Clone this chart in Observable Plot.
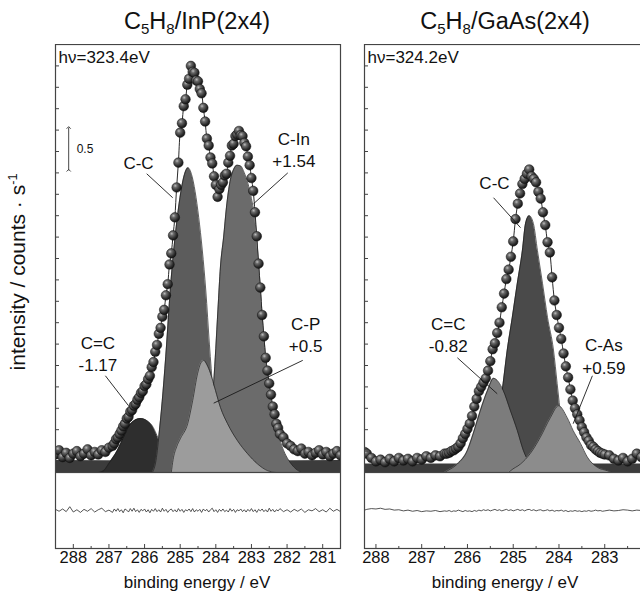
<!DOCTYPE html>
<html><head><meta charset="utf-8">
<script src="https://cdn.jsdelivr.net/npm/d3@7"></script>
<script src="https://cdn.jsdelivr.net/npm/@observablehq/plot@0.6"></script>
<style>
html,body{margin:0;padding:0;background:#fff;overflow:hidden;}
#wrap{position:relative;width:640px;height:594px;overflow:hidden;font-family:"Liberation Sans",Arial,sans-serif;color:#111;}
.abs{position:absolute;}
.title{font-size:23.5px;line-height:23.5px;white-space:nowrap;transform:translateX(-50%);}
.title .s{font-size:0.64em;position:relative;top:0.34em;}
.xlab{font-size:17px;line-height:17px;white-space:nowrap;transform:translateX(-50%);}
.ylab{font-size:21px;line-height:21px;white-space:nowrap;transform:translate(-50%,-50%) rotate(-90deg);}
.ylab sup{font-size:0.6em;vertical-align:0.6em;line-height:0;}
</style></head>
<body>
<svg width="0" height="0" style="position:absolute">
  <defs>
    <radialGradient id="ball" cx="0.36" cy="0.32" r="0.7">
      <stop offset="0" stop-color="#bdbdbd"/>
      <stop offset="0.28" stop-color="#6a6a6a"/>
      <stop offset="0.72" stop-color="#2e2e2e"/>
      <stop offset="1" stop-color="#111"/>
    </radialGradient>
  </defs>
</svg>
<div id="wrap"></div>
<script>
// ---------- data: rows are [binding energy (eV), intensity, residual] ----------
const inpRows = [
[288.5,0.21,0.03],[288.4,0.26,-0.02],[288.3,0.18,0.04],[288.2,0.23,-0.03],[288.1,0.17,0.1],
[288.0,0.22,-0.04],[287.9,0.25,0.02],[287.8,0.19,-0.05],[287.7,0.22,0.03],[287.6,0.27,-0.02],
[287.5,0.2,0.05],[287.4,0.24,-0.04],[287.3,0.21,0.02],[287.2,0.26,0.06],[287.1,0.24,-0.03],
[287.0,0.29,0.01],[286.9,0.31,-0.05],[286.85,0.34,0.04],[286.8,0.39,-0.02],[286.75,0.41,0.05],
[286.7,0.45,-0.03],[286.65,0.49,0.02],[286.6,0.54,-0.06],[286.55,0.57,0.04],[286.5,0.63,0.01],
[286.45,0.65,-0.04],[286.4,0.71,0.05],[286.35,0.73,-0.02],[286.3,0.78,0.06],[286.25,0.8,-0.03],
[286.2,0.85,0.02],[286.15,0.88,-0.05],[286.1,0.93,0.03],[286.05,0.95,-0.01],[286.0,1.01,0.04],
[285.95,1.03,-0.04],[285.9,1.09,0.02],[285.85,1.13,-0.06],[285.8,1.23,0.03],[285.75,1.29,-0.02],
[285.7,1.41,0.05],[285.65,1.49,-0.03],[285.6,1.62,0.02],[285.55,1.69,-0.04],[285.5,1.82,0.06],
[285.45,1.9,-0.02],[285.4,2.07,0.03],[285.35,2.2,-0.05],[285.3,2.43,0.01],[285.25,2.56,0.04],
[285.2,2.77,-0.03],[285.15,2.98,0.02],[285.1,3.33,-0.04],[285.05,3.62,0.05],[285.0,3.97,-0.02],
[284.95,4.08,0.03],[284.9,4.28,-0.05],[284.85,4.36,0.02],[284.8,4.53,-0.01],[284.75,4.6,0.04],
[284.7,4.75,-0.03],[284.65,4.68,0.05],[284.6,4.67,-0.04],[284.55,4.58,0.02],[284.5,4.57,-0.02],
[284.45,4.48,0.03],[284.4,4.43,-0.05],[284.35,4.26,0.04],[284.3,4.1,-0.01],[284.25,3.9,0.03],
[284.2,3.82,-0.04],[284.15,3.68,0.02],[284.1,3.61,0.06],[284.05,3.46,-0.03],[284.0,3.36,0.02],
[283.95,3.22,-0.05],[283.9,3.31,0.03],[283.85,3.36,-0.02],[283.8,3.39,0.04],[283.75,3.47,-0.03],
[283.7,3.49,0.01],[283.65,3.62,-0.04],[283.6,3.7,0.05],[283.55,3.82,-0.02],[283.5,3.84,0.03],
[283.45,3.93,-0.05],[283.4,3.95,0.02],[283.35,3.99,-0.01],[283.3,3.94,0.04],[283.25,3.93,-0.03],
[283.2,3.85,0.02],[283.15,3.81,-0.04],[283.1,3.69,0.03],[283.05,3.59,-0.02],[283.0,3.44,0.05],
[282.95,3.29,-0.03],[282.9,3.04,0.02],[282.85,2.76,-0.05],[282.8,2.44,0.03],[282.75,2.16,-0.01],
[282.7,1.84,0.04],[282.65,1.59,-0.03],[282.6,1.34,0.02],[282.55,1.19,-0.04],[282.5,1.04,0.06],
[282.45,0.91,-0.02],[282.4,0.77,0.03],[282.35,0.68,-0.04],[282.3,0.57,0.02],[282.25,0.52,-0.01],
[282.2,0.45,0.05],[282.1,0.41,-0.03],[282.0,0.34,0.02],[281.9,0.31,-0.04],[281.8,0.27,0.03],
[281.7,0.25,-0.02],[281.6,0.28,0.04],[281.5,0.22,-0.05],[281.4,0.24,0.02],[281.3,0.2,-0.01],
[281.2,0.23,0.05],[281.1,0.26,-0.03],[281.0,0.21,0.02],[280.9,0.24,-0.04],[280.8,0.19,0.06],
[280.7,0.22,-0.02],[280.6,0.25,0.03],[280.5,0.2,-0.03]
];
const gaasRows = [
[288.25,0.24,0.01],[288.2,0.22,0.03],[288.1,0.17,0.05],[288.0,0.13,0.04],[287.9,0.15,0.06],
[287.8,0.12,0.03],[287.7,0.16,0.04],[287.6,0.13,0.01],[287.5,0.17,0.02],[287.4,0.14,-0.01],
[287.3,0.16,0.01],[287.2,0.13,-0.02],[287.1,0.17,0.0],[287.0,0.15,-0.03],[286.9,0.19,-0.01],
[286.8,0.17,-0.02],[286.7,0.2,0.0],[286.6,0.19,-0.03],[286.5,0.22,-0.01],[286.45,0.22,-0.02],
[286.4,0.23,0.0],[286.35,0.25,-0.03],[286.3,0.26,-0.01],[286.25,0.28,-0.02],[286.2,0.3,0.01],
[286.15,0.34,-0.01],[286.1,0.4,-0.03],[286.05,0.45,0.0],[286.0,0.51,-0.02],[285.95,0.57,-0.01],
[285.9,0.66,-0.03],[285.85,0.77,0.0],[285.8,0.86,-0.02],[285.75,0.95,0.01],[285.7,1.0,-0.01],
[285.65,1.05,0.02],[285.6,1.1,0.0],[285.55,1.19,0.02],[285.5,1.3,-0.01],[285.45,1.44,0.01],
[285.4,1.51,0.03],[285.35,1.63,0.0],[285.3,1.75,0.02],[285.25,1.93,-0.01],[285.2,2.09,0.01],
[285.15,2.26,0.03],[285.1,2.37,0.0],[285.05,2.52,0.02],[285.0,2.7,-0.01],[284.95,2.96,0.01],
[284.9,3.14,0.03],[284.85,3.26,0.0],[284.8,3.37,0.02],[284.75,3.43,-0.01],[284.7,3.49,0.02],
[284.65,3.54,0.03],[284.6,3.46,0.0],[284.55,3.43,0.02],[284.5,3.39,-0.01],[284.45,3.28,0.01],
[284.4,3.2,0.02],[284.35,3.04,-0.01],[284.3,2.89,0.0],[284.25,2.69,0.02],[284.2,2.57,-0.01],
[284.15,2.28,0.01],[284.1,2.01,-0.02],[284.05,1.84,0.0],[284.0,1.69,-0.01],[283.95,1.56,0.01],
[283.9,1.39,-0.02],[283.85,1.24,0.0],[283.8,1.11,-0.03],[283.75,0.97,-0.01],[283.7,0.84,-0.02],
[283.65,0.75,0.0],[283.6,0.68,-0.02],[283.55,0.61,-0.01],[283.5,0.53,-0.03],[283.45,0.47,-0.01],
[283.4,0.41,-0.02],[283.35,0.37,0.0],[283.3,0.32,-0.02],[283.25,0.3,-0.01],[283.2,0.27,0.01],
[283.15,0.25,-0.01],[283.1,0.23,0.0],[283.05,0.22,-0.02],[283.0,0.21,-0.01],[282.9,0.2,0.01],
[282.8,0.16,-0.01],[282.7,0.14,0.0],[282.6,0.17,0.02],[282.5,0.13,0.01],[282.4,0.16,-0.01],
[282.3,0.22,0.01],[282.2,0.18,0.0],[282.1,0.24,0.02],[282.0,0.2,0.01]
];

// fitted components [E, intensity]
const inpCdC = [[287.29,0],[287.15,0.02],[287.01,0.1],[286.76,0.26],[286.59,0.41],[286.39,0.57],[286.11,0.63],[285.83,0.57],[285.63,0.41],[285.47,0.22],[285.27,0.06],[285.07,0]];
const inpCC  = [[285.78,0],[285.68,0.14],[285.58,0.5],[285.48,0.95],[285.38,1.5],[285.28,2.12],[285.18,2.6],[285.08,2.98],[284.98,3.28],[284.88,3.48],[284.78,3.56],[284.68,3.48],[284.58,3.28],[284.48,2.98],[284.38,2.6],[284.28,2.12],[284.18,1.5],[284.08,0.95],[283.98,0.5],[283.88,0.14],[283.78,0]];
const inpCIn = [[284.3,0],[284.22,0.15],[284.14,0.6],[284.06,1.04],[284.0,1.45],[283.94,1.9],[283.87,2.4],[283.78,2.75],[283.7,3.1],[283.6,3.4],[283.5,3.54],[283.4,3.59],[283.3,3.58],[283.2,3.5],[283.1,3.38],[283.0,3.2],[282.9,2.95],[282.8,2.45],[282.7,1.85],[282.6,1.35],[282.5,1.0],[282.4,0.75],[282.3,0.55],[282.2,0.38],[282.1,0.26],[281.95,0.14],[281.8,0.06],[281.6,0]];
const inpCP  = [[285.25,0],[285.2,0.15],[285.1,0.3],[284.99,0.4],[284.79,0.57],[284.65,0.84],[284.51,1.16],[284.42,1.28],[284.34,1.31],[284.25,1.26],[284.15,1.16],[284.01,0.96],[283.87,0.76],[283.67,0.57],[283.39,0.37],[283.11,0.22],[282.83,0.1],[282.54,0.02],[282.32,0]];
const inpBand = [[288.5,0.14],[284.5,0.13],[280.5,0.14]];

const gaasCC  = [[285.6,0],[285.5,0.05],[285.41,0.26],[285.33,0.61],[285.22,1.04],[285.13,1.43],[285.02,1.81],[284.91,2.21],[284.8,2.59],[284.73,2.91],[284.65,3.0],[284.56,2.91],[284.47,2.59],[284.36,2.21],[284.25,1.81],[284.12,1.43],[284.04,1.04],[283.95,0.61],[283.84,0.26],[283.75,0.05],[283.65,0]];
const gaasCdC = [[286.5,0],[286.44,0.02],[286.22,0.1],[286.0,0.26],[285.87,0.46],[285.72,0.72],[285.56,0.96],[285.43,1.1],[285.22,0.96],[285.06,0.72],[284.91,0.49],[284.78,0.26],[284.63,0.1],[284.47,0.02],[284.4,0]];
const gaasCAs = [[285.1,0],[285.06,0.02],[284.84,0.1],[284.63,0.22],[284.41,0.41],[284.19,0.64],[284.01,0.78],[283.82,0.64],[283.69,0.49],[283.53,0.34],[283.38,0.18],[283.16,0.06],[282.94,0.02],[282.85,0]];
const gaasBand = [[288.25,0.1],[282.0,0.1]];

// annotations
const inpLabels  = [{t:"C-C",E:286.17,I:3.63},{t:"C-In\n+1.54",E:281.81,I:3.78},{t:"C=C\n-1.17",E:287.31,I:1.40},{t:"C-P\n+0.5",E:281.48,I:1.62}];
const inpLeaders = [{E1:285.94,I1:3.49,E2:285.21,I2:3.21},{E1:281.98,I1:3.5,E2:282.94,I2:3.14},{E1:287.1,I1:1.13,E2:286.45,I2:0.78},{E1:281.56,I1:1.31,E2:284.06,I2:0.81}];
const gaasLabels  = [{t:"C-C",E:285.41,I:3.4},{t:"C=C\n-0.82",E:286.42,I:1.62},{t:"C-As\n+0.59",E:283.02,I:1.37}];
const gaasLeaders = [{E1:285.43,I1:3.21,E2:284.84,I2:2.86},{E1:286.22,I1:1.34,E2:285.35,I2:0.92},{E1:283.27,I1:1.13,E2:283.69,I2:0.57}];
const inpPhoton = "hν=323.4eV";
const gaasPhoton = "hν=324.2eV";
const scaleBar = {E:288.13, I1:3.53, I2:4.03, label:"0.5"};

// axes
const inpDomain = [288.5, 280.5];
const gaasDomain = [288.25, 282.0];
const inpTicks = [288,287,286,285,284,283,282,281];
const inpMinor = [287.5,286.5,285.5,284.5,283.5,282.5,281.5];
const gaasTicks = [288,287,286,285,284,283];
const gaasMinor = [287.5,286.5,285.5,284.5,283.5,282.5];
const yTicks = [0.25,0.5,0.75,1,1.25,1.5,1.75,2,2.25,2.5,2.75,3,3.25,3.5,3.75,4,4.25,4.5,4.75];

const FONT = '"Liberation Sans", Arial, sans-serif';
const wrap = document.getElementById("wrap");

function place(el, left, top) {
  el.style.position = "absolute";
  el.style.left = left + "px";
  el.style.top = top + "px";
  el.style.maxWidth = "none";
  wrap.appendChild(el);
}

function area(data, fill) {
  return [
    Plot.areaY(data, {x: d => d[0], y: d => d[1], fill, curve: "monotone-x", clip: true}),
    Plot.lineY(data, {x: d => d[0], y: d => d[1], stroke: "#1e1e1e", strokeWidth: 0.7, curve: "monotone-x", clip: true})
  ];
}

function mainPanel({rows, comps, band, labels, leaders, photon, domain, w, bar}) {
  const marks = [
    Plot.areaY(band, {x: d => d[0], y: d => d[1], fill: "#3c3c3c", clip: true}),
    ...comps.flatMap(c => area(c.data, c.fill)),
    Plot.lineY(rows, {x: d => d[0], y: d => d[1], stroke: "#2a2a2a", strokeWidth: 1, curve: "catmull-rom", clip: true}),
    Plot.dot(rows, {x: d => d[0], y: d => d[1], r: 4.8, fill: "url(#ball)", stroke: "#111", strokeWidth: 0.5, clip: true}),
    Plot.link(leaders, {x1: "E1", y1: "I1", x2: "E2", y2: "I2", stroke: "#1a1a1a", strokeWidth: 0.9}),
    Plot.text(labels, {x: "E", y: "I", text: "t", fontSize: 17, lineHeight: 1.33, fill: "#111"}),
    Plot.text([photon], {x: domain[0], y: 4.85, text: d => d, textAnchor: "start", dx: 3, fontSize: 17, fill: "#111"}),
    Plot.ruleY(yTicks, {stroke: "#444", strokeWidth: 1, insetRight: w - 4}),
    Plot.frame({stroke: "#444", strokeWidth: 1.2})
  ];
  if (bar) {
    marks.push(Plot.link([bar], {x1: "E", x2: "E", y1: "I1", y2: "I2", stroke: "#333", strokeWidth: 0.9, markerStart: "arrow", markerEnd: "arrow"}));
    marks.push(Plot.text([bar], {x: "E", y: d => (d.I1 + d.I2) / 2, text: "label", dx: 8, textAnchor: "start", fontSize: 12, fill: "#111"}));
  }
  return Plot.plot({
    width: w + 20, height: 428,
    marginLeft: 10, marginRight: 10, marginTop: 0, marginBottom: 0,
    x: {domain, axis: null},
    y: {domain: [0, 5], axis: null},
    style: {fontFamily: FONT, background: "transparent"},
    marks
  });
}

function residPanel({rows, domain, ticks, minor, w}) {
  return Plot.plot({
    width: w + 20, height: 106,
    marginLeft: 10, marginRight: 10, marginTop: 0, marginBottom: 30,
    x: {domain, axis: null},
    y: {domain: [-1, 1], axis: null},
    style: {fontFamily: FONT, background: "transparent"},
    marks: [
      Plot.lineY(rows, {x: d => d[0], y: d => d[2], stroke: "#2a2a2a", strokeWidth: 0.8, clip: true}),
      Plot.ruleX(ticks, {stroke: "#444", insetTop: 72}),
      Plot.ruleX(minor, {stroke: "#444", insetTop: 74}),
      Plot.axisX(ticks, {anchor: "bottom", tickSize: 0, tickPadding: 3, fontSize: 16.5, label: null, fill: "#111"}),
      Plot.frame({stroke: "#444", strokeWidth: 1.2})
    ]
  });
}

place(mainPanel({
  rows: inpRows, band: inpBand, domain: inpDomain, w: 285,
  comps: [{data: inpCdC, fill: "#2e2e2e"}, {data: inpCC, fill: "#5c5c5c"}, {data: inpCIn, fill: "#6b6b6b"}, {data: inpCP, fill: "#9c9c9c"}],
  labels: inpLabels, leaders: inpLeaders, photon: inpPhoton, bar: scaleBar
}), 45, 44);
place(residPanel({rows: inpRows, domain: inpDomain, ticks: inpTicks, minor: inpMinor, w: 285}), 45, 472);

place(mainPanel({
  rows: gaasRows, band: gaasBand, domain: gaasDomain, w: 286,
  comps: [{data: gaasCC, fill: "#4a4a4a"}, {data: gaasCdC, fill: "#7c7c7c"}, {data: gaasCAs, fill: "#8c8c8c"}],
  labels: gaasLabels, leaders: gaasLeaders, photon: gaasPhoton
}), 354, 44);
place(residPanel({rows: gaasRows, domain: gaasDomain, ticks: gaasTicks, minor: gaasMinor, w: 286}), 354, 472);

// titles and axis labels
function addDiv(cls, html, left, top) {
  const d = document.createElement("div");
  d.className = "abs " + cls;
  d.innerHTML = html;
  d.style.left = left + "px";
  d.style.top = top + "px";
  wrap.appendChild(d);
}
addDiv("title", 'C<span class="s">5</span>H<span class="s">8</span>/InP(2x4)', 197, 10);
addDiv("title", 'C<span class="s">5</span>H<span class="s">8</span>/GaAs(2x4)', 505, 10);
addDiv("xlab", "binding energy / eV", 197, 574);
addDiv("xlab", "binding energy / eV", 505, 574);
addDiv("ylab", "intensity / counts · s<sup>-1</sup>", 17, 272);
</script>
</body></html>
